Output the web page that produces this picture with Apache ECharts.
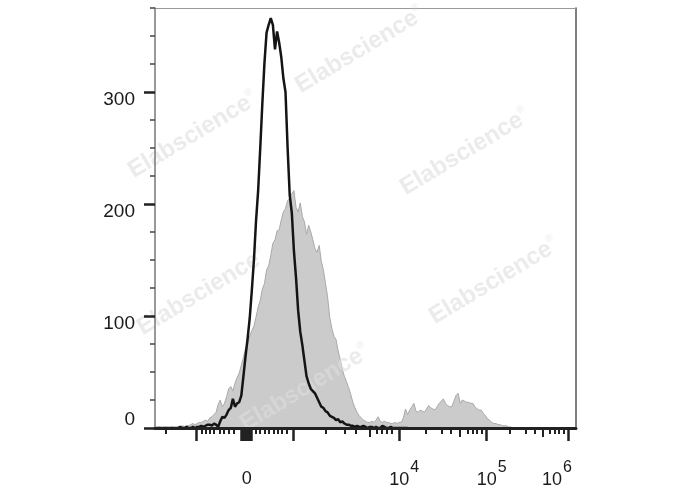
<!DOCTYPE html>
<html><head><meta charset="utf-8">
<script src="https://cdn.jsdelivr.net/npm/echarts@6/dist/echarts.min.js"></script>
<style>html,body{margin:0;padding:0;background:#fff}#c{width:688px;height:490px}</style>
</head><body><div id="c"></div>
<script>
// Histogram bins: display channel (biexponential display scale, 0..1000), bin width 5
const BIN_WIDTH = 5;

// Filled grey histogram (counts per bin, starting at channel 0)
const greyCounts = [
  0,0,1,0,0,1,0,0,1,0,0,1,1,2,1,2,2,3,4,3,
  4,5,5,6,7,6,9,10,12,14,
  21,25,19,22,28,35,37,33,40,45,
  49,56,63,71,75,82,87,91,99,108,
  114,124,129,141,145,154,165,168,176,177,
  186,193,196,203,205,209,212,197,193,201,
  189,184,173,181,175,168,160,157,163,149,
  141,129,117,99,89,82,79,69,61,52,
  46,41,36,30,23,18,14,11,9,7,
  6,5,5,6,5,7,10,6,5,6,
  5,5,4,4,5,4,5,5,9,17,
  12,16,19,22,15,14,16,15,14,17,
  20,18,17,16,19,22,24,26,22,20,
  19,19,24,29,31,22,25,24,23,23,
  22,22,19,17,16,16,13,11,8,7,
  5,4,4,3,3,2,2,2,1,1,
  0,0,0,0,0
];

// Black outline histogram (counts per bin, starting at channel 0)
const blackCounts = [
  0,0,0,0,0,0,0,0,0,0,0,0,1,0,0,1,0,0,1,0,
  1,1,2,1,2,3,3,2,4,3,
  1,6,10,9,12,16,18,26,19,22,
  23,29,46,64,80,98,123,150,185,212,
  250,290,326,353,360,366,360,338,354,344,
  331,312,300,250,208,192,158,134,105,86,
  74,60,46,40,35,33,31,27,23,19,
  18,15,14,11,10,9,7,8,5,6,
  4,3,3,2,2,1,2,1,1,2,
  1,0,1,1,0,1,0,0,2,1,
  0,0,1,0,0,0,0,0,0,0,0
];

// X axis ticks (display channels)
const xMinorTicks = [26,111,120,131,140,153,164,176,186,240,249,260,271,281,291,302,313,
  405,451,477,527,539,551,563,643,681,702,743,755,765,777,843,881,903,938,950,960,971];
const xMidTicks = [509,724,922];
const xMajorTicks = [99,204,209,214,219,224,228,329,580,788,982];
const xZeroLabel = [218];
const xDecadeLabels = [580,788,982];
const xDecadeExponents = ['4','5','6'];

// Y axis ticks (counts)
const yMinorTicks = [25,50,75,125,150,175,225,250,275,325,350,375];
const yMajorTicks = [0,100,200,300];
const yUpperLabels = [100,200,300];
const yZeroLabel = [0];
const Y_MAX = 375;
const X_MAX = 1000;

const FONT = '"Liberation Sans", Arial, sans-serif';
const toPairs = arr => arr.map((v, i) => [i * BIN_WIDTH, v]);

const chart = echarts.init(document.getElementById('c'));

const baseX = {type:'value', min:0, max:X_MAX, position:'bottom', splitLine:{show:false}};
const baseY = {type:'value', min:0, max:Y_MAX, position:'left', splitLine:{show:false}};

const watermarkSpots = [[193,135],[360,50],[465,152],[202,292],[494,281],[305,388]];

const option = {
  animation:false,
  backgroundColor:'#ffffff',
  grid:{left:155, right:112, top:8, bottom:62, outerBoundsMode:'none'},
  xAxis:[
    Object.assign({}, baseX, {
      z:10,
      axisLine:{show:true, onZero:false, lineStyle:{color:'#222', width:3}},
      axisTick:{show:true, customValues:xMinorTicks, length:6, lineStyle:{color:'#222', width:2}},
      axisLabel:{show:true, customValues:xZeroLabel, formatter:() => '0', margin:42,
        fontSize:18, color:'#1a1a1a', fontFamily:FONT}
    }),
    Object.assign({}, baseX, {
      z:10,
      axisLine:{show:false, onZero:false},
      axisTick:{show:true, customValues:xMidTicks, length:9, lineStyle:{color:'#222', width:2}},
      axisLabel:{show:false}
    }),
    Object.assign({}, baseX, {
      z:10,
      axisLine:{show:false, onZero:false},
      axisTick:{show:true, customValues:xMajorTicks, length:13, lineStyle:{color:'#222', width:2.5}},
      axisLabel:{show:true, customValues:xDecadeLabels, margin:32,
        formatter:(v) => {
          const i = xDecadeLabels.indexOf(Math.round(v));
          const e = xDecadeExponents[i];
          return i === xDecadeLabels.length - 1 ? '{b|10}{t|' + e + '}' : '{a|10}{s|' + e + '}';
        },
        rich:{
          a:{fontSize:18, fontFamily:FONT, color:'#1a1a1a', padding:[0,0,0,10]},
          b:{fontSize:18, fontFamily:FONT, color:'#1a1a1a'},
          s:{fontSize:16, fontFamily:FONT, color:'#1a1a1a', padding:[0,0,24,1]},
          t:{fontSize:16, fontFamily:FONT, color:'#1a1a1a', padding:[0,23,24,1]}
        }
      }
    }),
    Object.assign({}, baseX, {
      position:'top',
      axisLine:{show:true, onZero:false, lineStyle:{color:'#999', width:1}},
      axisTick:{show:false}, axisLabel:{show:false}
    })
  ],
  yAxis:[
    Object.assign({}, baseY, {
      z:10,
      axisLine:{show:true, onZero:false, lineStyle:{color:'#777', width:1.5}},
      axisTick:{show:true, customValues:yMinorTicks, length:5, lineStyle:{color:'#444', width:1.5}},
      axisLabel:{show:true, customValues:yUpperLabels, verticalAlign:'top', lineHeight:16, margin:20,
        fontSize:19, color:'#1a1a1a', fontFamily:FONT}
    }),
    Object.assign({}, baseY, {
      z:10,
      axisLine:{show:false, onZero:false},
      axisTick:{show:true, customValues:yMajorTicks, length:11, lineStyle:{color:'#222', width:2.5}},
      axisLabel:{show:true, customValues:yZeroLabel, verticalAlign:'bottom', lineHeight:16, margin:20,
        fontSize:19, color:'#1a1a1a', fontFamily:FONT}
    }),
    Object.assign({}, baseY, {
      position:'right',
      axisLine:{show:true, onZero:false, lineStyle:{color:'#555', width:1.5}},
      axisTick:{show:false}, axisLabel:{show:false}
    })
  ],
  series:[
    {
      type:'line', name:'control', data:toPairs(greyCounts), xAxisIndex:0, yAxisIndex:0,
      showSymbol:false, symbol:'none', z:1,
      lineStyle:{color:'#a9a9a9', width:1},
      areaStyle:{color:'#cbcbcb', opacity:1}
    },
    {
      type:'line', name:'stained', data:toPairs(blackCounts), xAxisIndex:0, yAxisIndex:0,
      showSymbol:false, symbol:'none', z:5,
      lineStyle:{color:'#141414', width:2.5}
    }
  ],
  graphic:{
    elements: watermarkSpots.map(([x, y]) => ({
      type:'text', x:x, y:y, rotation:31 * Math.PI / 180, z:3, silent:true,
      style:{
        text:'{w|Elabscience}{r|®}',
        align:'center', verticalAlign:'middle',
        rich:{
          w:{fontSize:24, fontWeight:'bold', fontFamily:FONT, fill:'rgba(222,222,222,0.6)'},
          r:{fontSize:10, fontFamily:FONT, fill:'rgba(222,222,222,0.6)', padding:[0,0,16,0]}
        }
      }
    }))
  }
};
chart.setOption(option);
</script>
</body></html>
